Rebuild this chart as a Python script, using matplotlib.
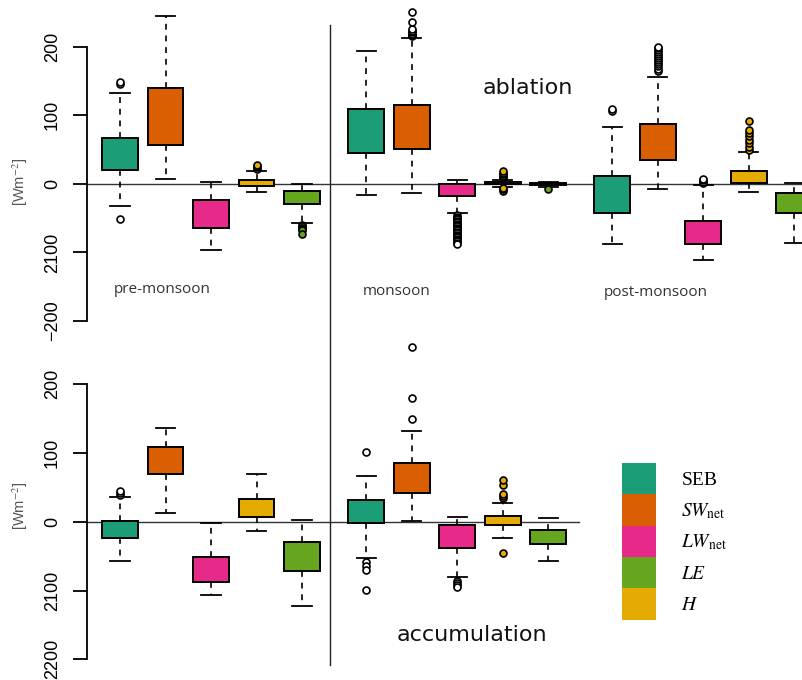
import matplotlib
matplotlib.use("Agg")
import matplotlib.pyplot as plt
from matplotlib.patches import Patch
from matplotlib.lines import Line2D
from matplotlib.transforms import blended_transform_factory

# ---------------- data ----------------
components = ["SEB", "SWnet", "LWnet", "H", "LE"]          # box order in each season
legend_labels = ["SEB", r"$SW_{\mathrm{net}}$", r"$LW_{\mathrm{net}}$", r"$LE$", r"$H$"]
legend_keys = ["SEB", "SWnet", "LWnet", "LE", "H"]
seasons = ["pre-monsoon", "monsoon", "post-monsoon"]
colors = {"SEB": "#1B9E77", "SWnet": "#D95F02", "LWnet": "#E7298A",
          "H": "#E6AB02", "LE": "#66A61E"}

yticks = [200, 100, 0, -100, -200]
ytick_labels_top = ["200", "100", "0", "2100", "\u2212200"]
ytick_labels_bot = ["200", "100", "0", "2100", "2200"]

# ablation (top) : whislo, q1, q3, whishi per component, per season
abl_pre_lo = [-33, 7, -97, -12, -57]
abl_pre_q1 = [20, 57, -65, -3, -29]
abl_pre_q3 = [67, 140, -23, 6, -10]
abl_pre_hi = [133, 244, 2, 19, -1]
abl_pre_fl = [[145, 148, -52], [], [], [22, 24, 26, 28], [-60, -62, -64, -66, -68, -73]]

abl_mon_lo = [-17, -13, -43, -4, -4]
abl_mon_q1 = [45, 50, -18, -1, -2]
abl_mon_q3 = [109, 115, 0, 2, 1]
abl_mon_hi = [194, 212, 6, 6, 3]
abl_mon_fl = [[], [215, 217, 219, 221, 223, 225, 236, 250],
              [-46, -48, -50, -52, -54, -56, -58, -60, -62, -64, -66, -68, -70,
               -72, -74, -76, -78, -80, -82, -84, -86, -88],
              [-10, -8, -6, 8, 10, 12, 14, 16, 18], [-8]]

abl_pst_lo = [-88, -7, -111, -12, -86]
abl_pst_q1 = [-43, 34, -88, 0.5, -43]
abl_pst_q3 = [11, 87, -54, 19, -14]
abl_pst_hi = [83, 155, -2, 47, 0.5]
abl_pst_fl = [[106, 109], [165, 168, 171, 174, 177, 180, 183, 186, 189, 192, 195, 198, 200],
              [1, 3, 5, 7], [49, 53, 59, 64, 69, 74, 79, 92], []]

# accumulation (bottom)
acc_pre_lo = [-57, 13, -107, -14, -122]
acc_pre_q1 = [-24, 69, -88, 7, -72]
acc_pre_q3 = [0.5, 108, -51, 33, -29]
acc_pre_hi = [36, 137, -2, 70, 3]
acc_pre_fl = [[39, 42, 45], [], [], [], []]

acc_mon_lo = [-52, 1.5, -81, -23, -57]
acc_mon_q1 = [-2, 42, -38, -5, -33]
acc_mon_q3 = [32, 85, -4, 9, -12]
acc_mon_hi = [67, 132, 7, 27, 5]
acc_mon_fl = [[102, -59, -64, -70, -99], [149, 180, 254], [-86, -89, -92, -95],
              [35, 38, 41, 54, 61, -46], []]

# ---------------- layout ----------------
W, H = 803, 680
fig = plt.figure(figsize=(W / 100, H / 100), dpi=100)
plt.rcParams["mathtext.fontset"] = "stix"

GAP = 5.41
BOXW = 0.79
XLIM = (-0.719, 15.01)
SEP_X = 4.62

left = 87.3 / W
ax_top = fig.add_axes([left, 1 - 340 / H, 1 - left, 340 / H])
ax_bot = fig.add_axes([left, 0, 1 - left, 340 / H])
ax_top.set_ylim(-227.7, 267.9)
ax_bot.set_ylim(-230.1, 264.3)


def make_stats(lo, q1, q3, hi, fl):
    out = []
    for a, b, c, d, f in zip(lo, q1, q3, hi, fl):
        out.append(dict(whislo=a, q1=b, med=(b + c) / 2, q3=c, whishi=d, fliers=f))
    return out


def draw(ax, season_data):
    for g, (lo, q1, q3, hi, fl) in enumerate(season_data):
        pos = [g * GAP + i for i in range(len(components))]
        res = ax.bxp(make_stats(lo, q1, q3, hi, fl), positions=pos, widths=BOXW,
                     patch_artist=True, showfliers=True, manage_ticks=False,
                     capwidths=0.42,
                     boxprops=dict(edgecolor="black", linewidth=1.4),
                     whiskerprops=dict(color="black", linewidth=1.2, linestyle=(0, (3.5, 3.5))),
                     capprops=dict(color="black", linewidth=1.3),
                     medianprops=dict(visible=False),
                     flierprops=dict(marker="o", markersize=5, markeredgecolor="black",
                                     markerfacecolor="white", markeredgewidth=1.2))
        for comp, box, fli in zip(components, res["boxes"], res["fliers"]):
            box.set_facecolor(colors[comp])
            box.set_zorder(3)
            if comp in ("H", "LE"):
                fli.set_markerfacecolor(colors[comp])


draw(ax_top, [(abl_pre_lo, abl_pre_q1, abl_pre_q3, abl_pre_hi, abl_pre_fl),
              (abl_mon_lo, abl_mon_q1, abl_mon_q3, abl_mon_hi, abl_mon_fl),
              (abl_pst_lo, abl_pst_q1, abl_pst_q3, abl_pst_hi, abl_pst_fl)])
draw(ax_bot, [(acc_pre_lo, acc_pre_q1, acc_pre_q3, acc_pre_hi, acc_pre_fl),
              (acc_mon_lo, acc_mon_q1, acc_mon_q3, acc_mon_hi, acc_mon_fl)])

# zero lines
ax_top.plot([XLIM[0], XLIM[1]], [0, 0], color="#333333", lw=1.0, zorder=1)
ax_bot.plot([XLIM[0], 10.09], [0, 0], color="#333333", lw=1.0, zorder=1)

for ax, labels, ylab_v in ((ax_top, ytick_labels_top, 2), (ax_bot, ytick_labels_bot, 23)):
    ax.set_xlim(*XLIM)
    ax.patch.set_visible(False)
    for s in ("top", "right", "bottom"):
        ax.spines[s].set_visible(False)
    ax.spines["left"].set_bounds(-200, 200)
    ax.spines["left"].set_linewidth(1.3)
    ax.set_xticks([])
    ax.set_yticks(yticks)
    ax.set_yticklabels(labels, fontfamily="Liberation Sans", fontsize=13)
    ax.tick_params(axis="y", length=10, width=1.3, pad=9, labelrotation=90)
    for t in ax.get_yticklabels():
        t.set_va("center")
    tr = blended_transform_factory(ax.transAxes, ax.transData)
    ax.text((20 - 87.3) / (W - 87.3), ylab_v, "[Wm$^{-2}$]", transform=tr, rotation=90,
            ha="center", va="center", fontsize=10.5, color="#555555",
            fontfamily="Liberation Sans")

# vertical separator spanning both panels
sep_tr = blended_transform_factory(ax_top.transData, fig.transFigure)
fig.add_artist(Line2D([SEP_X, SEP_X], [1 - 25 / H, 1 - 665 / H], transform=sep_tr,
                      color="#222222", lw=1.0, zorder=1))

# season labels
ax_top.text(0.92, -154.8, seasons[0], ha="center", va="center", fontsize=11,
            fontfamily="Open Sans", color="#333333")
ax_top.text(6.07, -156.3, seasons[1], ha="center", va="center", fontsize=11,
            fontfamily="Open Sans", color="#333333")
ax_top.text(11.78, -159, seasons[2], ha="center", va="center", fontsize=11,
            fontfamily="Open Sans", color="#333333")
ax_top.text(8.97, 139.7, "ablation", ha="center", va="center", fontsize=16,
            fontfamily="DejaVu Sans", color="#111111")
ax_bot.text(7.74, -164.8, "accumulation", ha="center", va="center", fontsize=16,
            fontfamily="DejaVu Sans", color="#111111")

# legend
handles = [Patch(facecolor=colors[k], edgecolor="none") for k in legend_keys]
fig.legend(handles, legend_labels, loc="upper left", bbox_to_anchor=(622 / W, 1 - 463 / H),
           frameon=False, borderpad=0, borderaxespad=0, labelspacing=0,
           handlelength=1.75, handleheight=2.1, handletextpad=1.3,
           prop=dict(family="Liberation Serif", size=14))

fig.savefig("out.png", dpi=100)
